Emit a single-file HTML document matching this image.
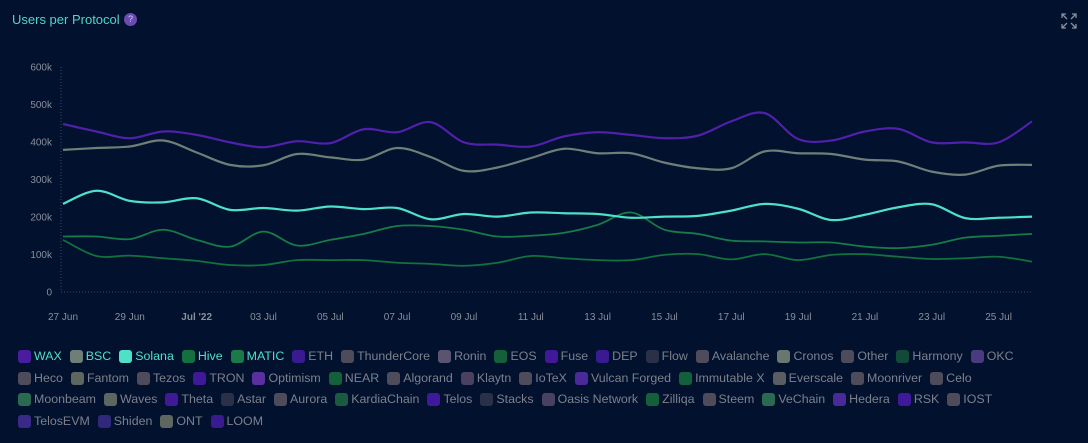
<!DOCTYPE html>
<html><head><meta charset="utf-8">
<style>
body{margin:0;width:1088px;height:443px;background:#01112e;overflow:hidden;font-family:"Liberation Sans",sans-serif;}
#title{position:absolute;left:12px;top:12px;color:#4fd8c4;font-size:13px;}
#help{position:absolute;left:124px;top:13px;width:13px;height:13px;border-radius:50%;background:#6a4bb0;color:#d8d0f0;font-size:9px;text-align:center;line-height:13px;}
#expand{position:absolute;left:1061px;top:13px;}
.row{position:absolute;left:18px;display:flex;gap:8px;font-size:12.4px;color:#7d808c;white-space:nowrap;}
.it{display:flex;align-items:center;gap:3px;}
.sw{width:13px;height:13px;border-radius:3px;display:inline-block;}
.on{color:#4fe0c8;}
</style></head><body>
<div id="title">Users per Protocol</div>
<div id="help">?</div>
<svg id="expand" width="16" height="16" viewBox="0 0 16 16" fill="none" stroke="#8a8f99" stroke-width="1.3"><path d="M1 5V1h4M11 1h4v4M15 11v4h-4M5 15H1v-4M1 1l5 5M15 1l-5 5M15 15l-5-5M1 15l5-5"/></svg>
<svg id="chart" width="1088" height="340" style="position:absolute;left:0;top:0"></svg>
<div id="legend"></div>
<script>
const categories=["27 Jun","28 Jun","29 Jun","30 Jun","1 Jul","2 Jul","3 Jul","4 Jul","5 Jul","6 Jul","7 Jul","8 Jul","9 Jul","10 Jul","11 Jul","12 Jul","13 Jul","14 Jul","15 Jul","16 Jul","17 Jul","18 Jul","19 Jul","20 Jul","21 Jul","22 Jul","23 Jul","24 Jul","25 Jul","26 Jul"];
const xTickLabels=["27 Jun","29 Jun","Jul '22","03 Jul","05 Jul","07 Jul","09 Jul","11 Jul","13 Jul","15 Jul","17 Jul","19 Jul","21 Jul","23 Jul","25 Jul"];
const yTicks=[0,100,200,300,400,500,600];
const yTickLabels=["0","100k","200k","300k","400k","500k","600k"];
const waxValues=[448,428,410,428,419,399,386,402,397,434,426,453,399,393,388,415,426,419,410,417,455,477,408,404,428,435,399,399,399,455];
const bscValues=[379,384,388,404,372,339,338,368,359,353,384,360,323,332,357,382,370,370,345,330,330,375,370,368,353,348,321,313,337,339];
const solanaValues=[235,270,243,239,250,219,224,217,228,221,224,194,208,201,212,210,208,198,201,203,217,235,222,192,206,226,234,197,198,201];
const hiveValues=[139,96,97,90,83,72,72,85,85,85,78,75,70,78,96,90,85,85,99,101,87,101,85,99,101,94,88,90,94,81];
const maticValues=[148,148,141,166,139,121,161,124,139,155,176,176,166,148,150,158,179,212,166,155,137,135,132,132,121,117,126,145,150,155];
const seriesNames=["WAX","BSC","Solana","Hive","MATIC"];
const seriesColors=["#5020aa","#6f7f78","#4fe0c8","#13703f","#177a47"];
const seriesData=[waxValues,bscValues,solanaValues,hiveValues,maticValues];

const svg=document.getElementById('chart');const NS="http://www.w3.org/2000/svg";
const X0=63,X1=1032,Y0=292,Y1=67;
const xs=i=>X0+(X1-X0)*i/(categories.length-1);
const ys=v=>Y0-(Y0-Y1)*v/600;
function mk(t,a){const e=document.createElementNS(NS,t);for(const k in a)e.setAttribute(k,a[k]);svg.appendChild(e);return e;}
let ax=mk('line',{x1:61,y1:Y1,x2:61,y2:Y0,stroke:'#3a4660','stroke-dasharray':'1,2'});

let bl=mk('line',{x1:61,y1:Y0,x2:X1,y2:Y0,stroke:'#3a4660','stroke-dasharray':'1,2'});

yTicks.forEach((v,i)=>{const t=mk('text',{x:52,y:ys(v)+3.5,'text-anchor':'end','font-size':'10','fill':'#8a8f99','font-family':'Liberation Sans, sans-serif'});t.textContent=yTickLabels[i];
});
xTickLabels.forEach((l,i)=>{const t=mk('text',{x:xs(i*2),y:320,'text-anchor':'middle','font-size':'10','fill':'#8a8f99','font-family':'Liberation Sans, sans-serif','font-weight':l.startsWith('Jul')?'bold':'normal'});t.textContent=l;
});
function path(vals){const p=vals.map((v,i)=>[xs(i),ys(v)]);let d=`M${p[0][0]},${p[0][1]}`;
for(let i=0;i<p.length-1;i++){const a=p[i-1]||p[i],b=p[i],c=p[i+1],e=p[i+2]||c;
d+=` C${b[0]+(c[0]-a[0])/6},${b[1]+(c[1]-a[1])/6} ${c[0]-(e[0]-b[0])/6},${c[1]-(e[1]-b[1])/6} ${c[0]},${c[1]}`;}return d;}
[4,3,2,1,0].forEach(k=>{const l=mk('path',{d:path(seriesData[k]),fill:'none',stroke:seriesColors[k],'stroke-width':k<3?2.2:1.8});
});

const rows=[
[["WAX","#4a1ca0",1],["BSC","#6f7f78",1],["Solana","#4fe0c8",1],["Hive","#13703f",1],["MATIC","#1a7a48",1],["ETH","#3a1a90"],["ThunderCore","#4e4c5a"],["Ronin","#5a5470"],["EOS","#13603a"],["Fuse","#40189a"],["DEP","#3a1a90"],["Flow","#2a3048"],["Avalanche","#4e4c5a"],["Cronos","#6a7670"],["Other","#4e4c5a"],["Harmony","#124a38"],["OKC","#4a3a80"]],
[["Heco","#4e4c5a"],["Fantom","#5e6660"],["Tezos","#4e4c5a"],["TRON","#40189a"],["Optimism","#5a30a0"],["NEAR","#13603a"],["Algorand","#4e4c5a"],["Klaytn","#4a4060"],["IoTeX","#4e4c5a"],["Vulcan Forged","#4a2a98"],["Immutable X","#13603a"],["Everscale","#5a5e62"],["Moonriver","#4e4c5a"],["Celo","#4e4c5a"]],
[["Moonbeam","#2a6a50"],["Waves","#5e6660"],["Theta","#40189a"],["Astar","#2a3048"],["Aurora","#4e4c5a"],["KardiaChain","#1a5a40"],["Telos","#40189a"],["Stacks","#2a3048"],["Oasis Network","#4a4060"],["Zilliqa","#13603a"],["Steem","#4e4c5a"],["VeChain","#2a6a50"],["Hedera","#4a2a98"],["RSK","#40189a"],["IOST","#4e4c5a"]],
[["TelosEVM","#3a2a88"],["Shiden","#30287a"],["ONT","#5e6660"],["LOOM","#3a1a90"]]];
const tops=[349,371,392,414];
const lg=document.getElementById('legend');
rows.forEach((r,ri)=>{const d=document.createElement('div');d.className='row';d.style.top=tops[ri]+'px';
r.forEach(([n,c,on])=>{const it=document.createElement('span');it.className='it'+(on?' on':'');


it.innerHTML=`<span class="sw" style="background:${c}"></span>${n}`;d.appendChild(it);});lg.appendChild(d);});
</script>
</body></html>
